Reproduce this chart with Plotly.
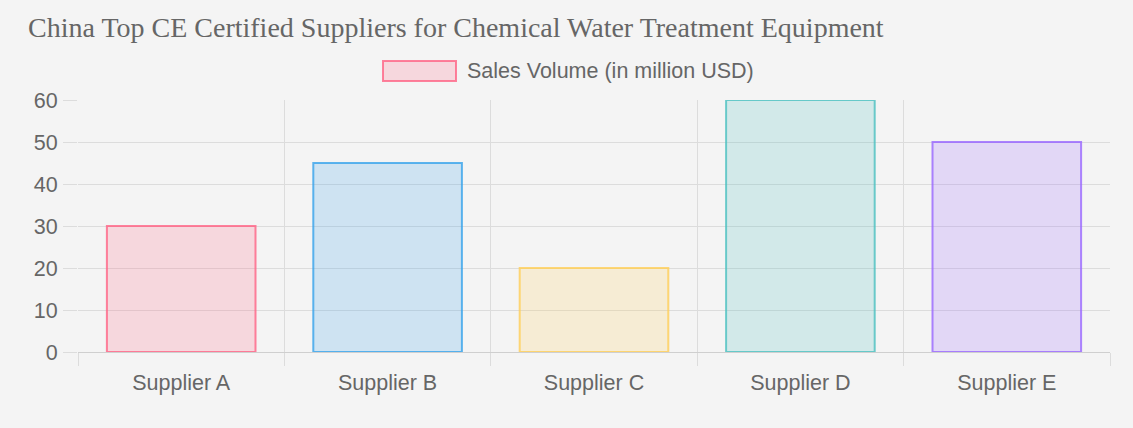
import plotly.graph_objects as go

suppliers = ["Supplier A", "Supplier B", "Supplier C", "Supplier D", "Supplier E"]
sales = [30, 45, 20, 60, 50]
series_name = "Sales Volume (in million USD)"
fill_colors = ["rgba(255,99,132,0.2)", "rgba(54,162,235,0.2)", "rgba(255,206,86,0.2)",
               "rgba(75,192,192,0.2)", "rgba(153,102,255,0.2)"]
line_colors = ["rgba(255,99,132,0.8)", "rgba(54,162,235,0.8)", "rgba(255,206,86,0.8)",
               "rgba(75,192,192,0.8)", "rgba(153,102,255,0.8)"]
y_ticks = [0, 10, 20, 30, 40, 50, 60]

W, H = 1133, 428
ml, mr, mt, mb = 78, 23, 100, 76

fig = go.Figure()
fig.add_trace(go.Bar(
    x=suppliers, y=sales, name=series_name,
    marker=dict(color=fill_colors, line=dict(color=line_colors, width=2)),
    width=0.72, showlegend=False,
))

grid = "#dcdcdc"
fig.update_layout(
    width=W, height=H,
    margin=dict(l=ml, r=mr, t=mt, b=mb),
    paper_bgcolor="#f4f4f4", plot_bgcolor="#f4f4f4",
    font=dict(family="Arial, Liberation Sans, sans-serif", color="#666666", size=21),
    title=dict(text="China Top CE Certified Suppliers for Chemical Water Treatment Equipment",
               font=dict(family="Liberation Serif, Times New Roman, serif", size=28, color="#666666"),
               x=28 / W, xref="container", xanchor="left",
               y=1 - 27 / H, yref="container", yanchor="middle"),
    showlegend=False,
)
fig.update_xaxes(
    tickson="boundaries", showgrid=True, gridcolor=grid, gridwidth=1,
    ticks="outside", ticklen=13, tickcolor=grid,
    showline=True, linecolor="#cfcfcf", linewidth=1,
    tickfont=dict(size=21.5, color="#666666"), ticklabelstandoff=11,
)
fig.update_yaxes(
    range=[0, 60], tickvals=y_ticks, showgrid=True, gridcolor=grid, gridwidth=1,
    ticks="outside", ticklen=14, tickcolor=grid, zeroline=False,
    showline=False, tickfont=dict(size=21.5, color="#666666"), ticklabelstandoff=1,
)
# custom Chart.js-style legend
fig.add_shape(type="rect", xref="paper", yref="paper",
              x0=(383 - ml) / (W - ml - mr), x1=(456 - ml) / (W - ml - mr),
              y0=1 + (mt - 81) / (H - mt - mb), y1=1 + (mt - 61) / (H - mt - mb),
              fillcolor=fill_colors[0], line=dict(color=line_colors[0], width=2))
fig.add_annotation(text=series_name, xref="paper", yref="paper",
                   x=(465 - ml) / (W - ml - mr), xanchor="left",
                   y=1 + (mt - 71) / (H - mt - mb), yanchor="middle",
                   showarrow=False, font=dict(size=21.5, color="#666666"))

fig.write_html("out.html")
